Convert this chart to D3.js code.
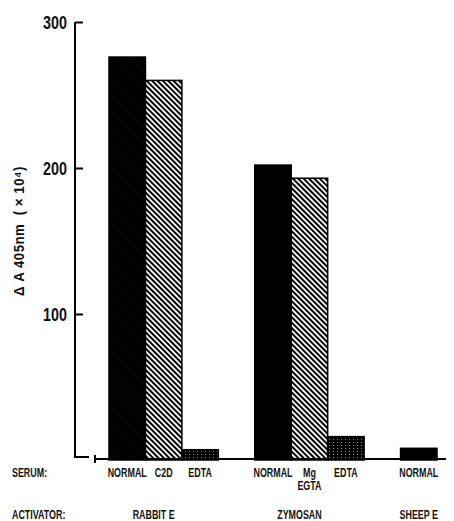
<!DOCTYPE html>
<html>
<head>
<meta charset="utf-8">
<script src="https://cdn.jsdelivr.net/npm/d3@7"></script>
<style>
  body { margin: 0; background: #fff; }
  text { font-family: "Liberation Sans", Arial, sans-serif; font-weight: bold; fill: #111; }
</style>
</head>
<body>
<script>
// values (delta A405nm x 10^4)
var activators = ["RABBIT E", "ZYMOSAN", "SHEEP E"];
var serum = ["NORMAL", "C2D", "EDTA", "NORMAL", "Mg\nEGTA", "EDTA", "NORMAL"];
var activatorOf = ["RABBIT E", "RABBIT E", "RABBIT E", "ZYMOSAN", "ZYMOSAN", "ZYMOSAN", "SHEEP E"];
var values = [276, 260, 7, 202, 193, 16, 8];
var yTicks = [100, 200, 300];

var width = 454, height = 521;
var squeeze = 0.66; // the printed lettering is very condensed

var svg = d3.select("body")
	.append("svg")
		.attr("width", width)
		.attr("height", height);

// patterns
var defs = svg.append("defs");

var hatch = defs.append("pattern")
	.attr("id", "hatch")
	.attr("patternUnits", "userSpaceOnUse")
	.attr("width", 3.8)
	.attr("height", 3.8)
	.attr("patternTransform", "rotate(-45)");
hatch.append("rect").attr("width", 3.8).attr("height", 3.8).attr("fill", "#fff");
hatch.append("rect").attr("width", 2).attr("height", 3.8).attr("fill", "#000");

var dark = defs.append("pattern")
	.attr("id", "dark")
	.attr("patternUnits", "userSpaceOnUse")
	.attr("width", 10)
	.attr("height", 10)
	.attr("patternTransform", "rotate(-45)");
dark.append("rect").attr("width", 10).attr("height", 10).attr("fill", "#000");
dark.append("rect").attr("width", 0.5).attr("height", 10).attr("fill", "#161616");

var dots = defs.append("pattern")
	.attr("id", "dots")
	.attr("patternUnits", "userSpaceOnUse")
	.attr("width", 4)
	.attr("height", 3);
dots.append("rect").attr("width", 4).attr("height", 3).attr("fill", "#000");
dots.append("rect").attr("x", 1).attr("y", 1).attr("width", 1).attr("height", 1).attr("fill", "#8a8a8a");

// x slots: bars of each group, with one empty slot between groups
var slots = [];
var bars = values.map(function (v, i) {
	return { i: i, value: v, serum: serum[i], activator: activatorOf[i] };
});
activators.forEach(function (a, gi) {
	if (gi > 0) slots.push("gap" + gi);
	bars.filter(function (d) { return d.activator == a; })
		.forEach(function (d) { slots.push("b" + d.i); });
});

var x = d3.scaleBand()
	.domain(slots)
	.range([109, 437])
	.padding(0);

var y = d3.scaleLinear()
	.domain([0, 300])
	.range([460, 22]);

function fillFor(d) {
	if (d.serum == "EDTA") return "url(#dots)";
	if (d.serum == "NORMAL") return d.i == 0 ? "url(#dark)" : "#000";
	return "url(#hatch)";
}

function squeezeAt(px, py, s) {
	return "translate(" + px + "," + py + ") scale(" + (s || squeeze) + ",1)";
}

// bars
svg.selectAll("rect.bar")
	.data(bars)
	.enter()
	.append("rect")
		.attr("class", "bar")
		.attr("x", function (d) { return x("b" + d.i); })
		.attr("y", function (d) { return y(d.value); })
		.attr("width", x.bandwidth())
		.attr("height", function (d) { return y(0) - y(d.value); })
		.attr("fill", function (d) { return fillFor(d); })
		.attr("stroke", "#000")
		.attr("stroke-width", 1.5);

// y axis
var yAxis = d3.axisLeft(y)
	.tickValues(yTicks)
	.tickSizeInner(-8)
	.tickSizeOuter(0)
	.tickPadding(8);

var gy = svg.append("g")
	.attr("transform", "translate(75,0)")
	.call(yAxis);
gy.select(".domain").remove();
gy.selectAll(".tick line").attr("stroke", "#000").attr("stroke-width", 2);
gy.selectAll(".tick text")
	.attr("x", null)
	.attr("dy", null)
	.attr("transform", squeezeAt(-8, 6, 0.82))
	.attr("font-size", 17.5)
	.attr("font-family", null)
	.style("font-family", "'Liberation Sans', Arial, sans-serif")
	.style("font-weight", "bold");

// axis lines (broken corner at the origin)
svg.append("path")
	.attr("d", "M75," + y(300) + "V" + (y(0) - 3) + "H89")
	.attr("fill", "none")
	.attr("stroke", "#000")
	.attr("stroke-width", 2);

svg.append("path")
	.attr("d", "M95," + (y(0) - 1) + "H446M95," + (y(0) - 5) + "V" + (y(0) + 3))
	.attr("fill", "none")
	.attr("stroke", "#000")
	.attr("stroke-width", 2);

// y label
svg.append("text")
	.attr("transform", "translate(24,231) rotate(-90) scale(0.88,1)")
	.attr("text-anchor", "middle")
	.attr("font-size", 15)
	.style("letter-spacing", "0.6px")
	.style("white-space", "pre")
	.text("\u0394 A 405nm  ( \u00d7 10\u2074)");

// serum labels
var lbl = svg.selectAll("text.serum")
	.data(bars)
	.enter()
	.append("text")
		.attr("class", "serum")
		.attr("text-anchor", "middle")
		.attr("font-size", 13.5)
		.attr("transform", function (d) { return squeezeAt(x("b" + d.i) + x.bandwidth() / 2, 477); });
lbl.selectAll("tspan")
	.data(function (d) { return d.serum.split("\n"); })
	.enter()
	.append("tspan")
		.attr("x", 0)
		.attr("dy", function (d, i) { return i == 0 ? 0 : 13.5; })
		.text(function (d) { return d; });

svg.append("text")
	.attr("transform", squeezeAt(12, 477))
	.attr("font-size", 13.5)
	.text("SERUM:");

// activator labels, centred under each group
svg.selectAll("text.act")
	.data(activators)
	.enter()
	.append("text")
		.attr("class", "act")
		.attr("text-anchor", "middle")
		.attr("font-size", 13.5)
		.attr("transform", function (a) {
			var ks = bars.filter(function (d) { return d.activator == a; });
			var x0 = x("b" + ks[0].i), x1 = x("b" + ks[ks.length - 1].i) + x.bandwidth();
			var cx = ks.length == 1 ? (x0 + x1) / 2 : (x0 + x1) / 2 - 10;
			return squeezeAt(cx, 519);
		})
		.text(function (a) { return a; });

svg.append("text")
	.attr("transform", squeezeAt(12, 519))
	.attr("font-size", 13.5)
	.text("ACTIVATOR:");
</script>
</body>
</html>
